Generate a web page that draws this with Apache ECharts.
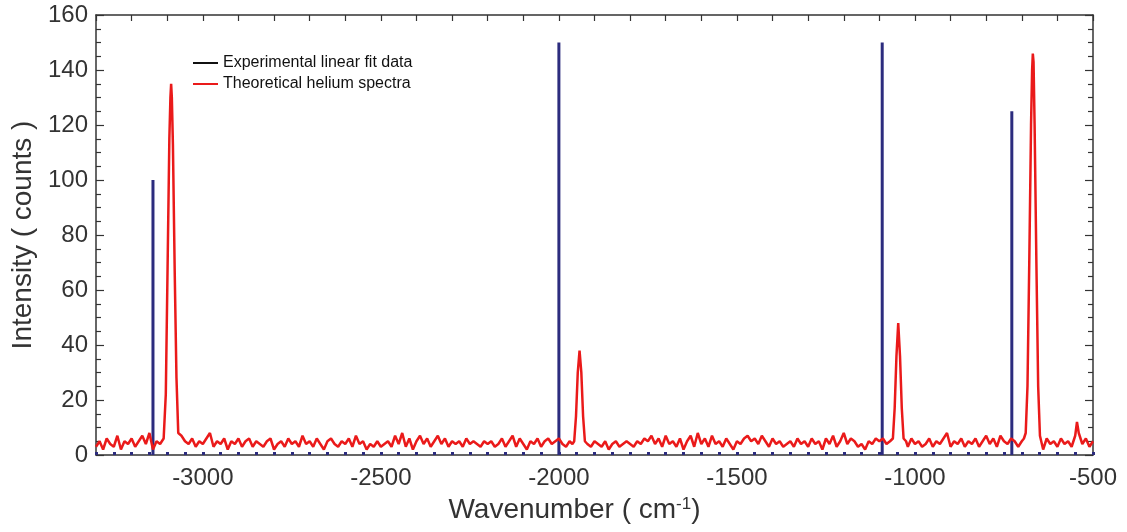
<!DOCTYPE html>
<html><head><meta charset="utf-8">
<script src="https://cdn.jsdelivr.net/npm/echarts@6/dist/echarts.min.js"></script>
<style>html,body{margin:0;padding:0;background:#fff}#c{width:1127px;height:532px}</style>
</head><body><div id="c"></div>
<script>
// ---- data ----
const expName = 'Experimental linear fit data';
const theoryName = 'Theoretical helium spectra';

const expWavenumber = [-3140, -2000, -1092, -728];
const expIntensity  = [100, 150, 150, 125];

const theoryWavenumber = [
  -3300,-3290,-3280,-3270,-3260,-3250,-3240,-3230,-3220,-3210,
  -3200,-3190,-3180,-3170,-3160,-3150,-3140,-3130,-3120,-3110,
  -3104,-3099,-3094,-3091,-3089,-3087,-3084,-3079,-3074,-3069,
  -3060,-3050,-3040,-3030,-3020,-3010,-3000,-2990,-2980,-2970,
  -2960,-2950,-2940,-2930,-2920,-2910,-2900,-2890,-2880,-2870,
  -2860,-2850,-2840,-2830,-2820,-2810,-2800,-2790,-2780,-2770,
  -2760,-2750,-2740,-2730,-2720,-2710,-2700,-2690,-2680,-2670,
  -2660,-2650,-2640,-2630,-2620,-2610,-2600,-2590,-2580,-2570,
  -2560,-2550,-2540,-2530,-2520,-2510,-2500,-2490,-2480,-2470,
  -2460,-2450,-2440,-2430,-2420,-2410,-2400,-2390,-2380,-2370,
  -2360,-2350,-2340,-2330,-2320,-2310,-2300,-2290,-2280,-2270,
  -2260,-2250,-2240,-2230,-2220,-2210,-2200,-2190,-2180,-2170,
  -2160,-2150,-2140,-2130,-2120,-2110,-2100,-2090,-2080,-2070,
  -2060,-2050,-2040,-2030,-2020,-2010,-2000,-1990,-1980,-1970,
  -1962,-1957,-1952,-1947,-1942,-1937,-1932,-1927,-1920,-1910,
  -1900,-1890,-1880,-1870,-1860,-1850,-1840,-1830,-1820,-1810,
  -1800,-1790,-1780,-1770,-1760,-1750,-1740,-1730,-1720,-1710,
  -1700,-1690,-1680,-1670,-1660,-1650,-1640,-1630,-1620,-1610,
  -1600,-1590,-1580,-1570,-1560,-1550,-1540,-1530,-1520,-1510,
  -1500,-1490,-1480,-1470,-1460,-1450,-1440,-1430,-1420,-1410,
  -1400,-1390,-1380,-1370,-1360,-1350,-1340,-1330,-1320,-1310,
  -1300,-1290,-1280,-1270,-1260,-1250,-1240,-1230,-1220,-1210,
  -1200,-1190,-1180,-1170,-1160,-1150,-1140,-1130,-1120,-1110,
  -1100,-1090,-1080,-1070,-1062,-1057,-1052,-1047,-1042,-1037,
  -1032,-1025,-1020,-1010,-1000,-990,-980,-970,-960,-950,
  -940,-930,-920,-910,-900,-890,-880,-870,-860,-850,
  -840,-830,-820,-810,-800,-790,-780,-770,-760,-750,
  -740,-730,-720,-710,-700,-694,-689,-684,-679,-674,
  -671,-669,-667,-664,-659,-654,-649,-640,-630,-620,
  -610,-600,-590,-580,-570,-560,-550,-545,-540,-530,
  -520,-510,-500
];
const theoryIntensity = [
  3,5,2,6,4,3,7,2,5,4,
  6,3,5,7,4,8,2,5,4,6,
  22,68,115,130,135,130,113,67,28,8,
  7,5,4,6,3,5,4,6,8,3,
  5,4,6,2,5,4,6,3,5,6,
  3,5,4,3,5,6,2,4,5,3,
  6,4,5,3,7,4,5,3,6,4,
  2,5,6,4,3,5,4,6,3,7,
  4,5,2,4,3,5,3,4,5,3,
  7,4,8,3,6,2,5,7,4,6,
  3,5,7,4,6,3,5,4,5,3,
  6,4,5,4,3,5,4,5,3,4,
  6,3,5,7,3,6,4,2,5,4,
  6,3,5,6,4,5,6,4,3,5,
  4,5,14,30,38,30,14,5,4,3,
  5,4,3,5,2,4,5,3,4,5,
  4,3,5,4,6,5,7,4,6,3,
  7,4,5,3,6,2,5,7,3,8,
  4,6,3,7,4,5,3,6,4,2,
  5,4,6,7,5,6,4,7,5,3,
  6,4,5,3,4,5,3,6,4,5,
  3,6,4,5,2,6,4,7,3,5,
  8,4,6,5,3,4,2,5,4,6,
  5,6,4,5,6,17,36,48,36,17,
  6,5,3,6,4,5,3,4,6,3,
  5,4,6,8,3,5,4,6,3,5,
  4,6,3,5,7,4,6,3,7,5,
  4,6,5,3,5,6,8,25,70,120,
  140,146,143,120,70,25,7,2,6,4,
  5,3,6,4,5,3,7,12,8,4,
  6,3,5
];

const xTickLabels = [-3000, -2500, -2000, -1500, -1000, -500];

// ---- chart ----
const FONT = '"Liberation Sans", Arial, Helvetica, sans-serif';
const AX = '#333';
const NAVY = '#2c2c7e';
const RED = '#ea1a1a';

const chart = echarts.init(document.getElementById('c'), null, {renderer: 'canvas'});

const baseX = {
  type: 'value', min: -3300, max: -500, interval: 100,
  axisLine: {show: true, onZero: false, lineStyle: {color: AX, width: 1.5}},
  splitLine: {show: false}, minorSplitLine: {show: false}
};
const baseY = {
  type: 'value', min: 0, max: 160, interval: 20,
  axisLine: {show: true, onZero: false, lineStyle: {color: AX, width: 1.5}},
  axisTick: {show: true, inside: true, length: 8, lineStyle: {color: AX, width: 1.2}},
  minorTick: {show: true, splitNumber: 4, length: 5, lineStyle: {color: AX, width: 1.2}},
  splitLine: {show: false}, minorSplitLine: {show: false}
};

chart.setOption({
  animation: false,
  backgroundColor: '#fff',
  textStyle: {fontFamily: FONT},
  grid: {left: 96, right: 34, top: 15, bottom: 77, containLabel: false},
  legend: {
    orient: 'vertical', left: 188, top: 50,
    itemWidth: 25, itemHeight: 2, itemGap: 5, icon: 'rect',
    textStyle: {fontSize: 16, color: '#111', fontFamily: FONT},
    data: [
      {name: expName, itemStyle: {color: '#111'}},
      {name: theoryName, itemStyle: {color: RED}}
    ]
  },
  xAxis: [
    Object.assign({}, baseX, {
      position: 'bottom',
      axisTick: {show: true, inside: true, length: 3, lineStyle: {color: NAVY, width: 3}},
      minorTick: {show: true, splitNumber: 2, length: 3, lineStyle: {color: NAVY, width: 3}},
      axisLabel: {
        fontSize: 24, color: AX, margin: 11, fontFamily: FONT,
        formatter: v => xTickLabels.indexOf(v) >= 0 ? String(v) : ''
      },
      name: '{n|Wavenumber ( cm}{s|-1}{n|)}',
      nameLocation: 'middle', nameGap: 41,
      nameTextStyle: {
        padding: [0, 40, 0, 0],
        rich: {
          n: {fontSize: 28, color: AX, fontFamily: FONT},
          s: {fontSize: 17, color: AX, fontFamily: FONT, verticalAlign: 'top'}
        }
      }
    }),
    Object.assign({}, baseX, {
      position: 'top',
      axisTick: {show: true, inside: true, length: 6, lineStyle: {color: AX, width: 1.2}},
      axisLabel: {show: false}
    })
  ],
  yAxis: [
    Object.assign({}, baseY, {
      position: 'left',
      axisLabel: {fontSize: 24, color: AX, margin: 8, fontFamily: FONT},
      name: 'Intensity ( counts )',
      nameLocation: 'middle', nameGap: 56,
      nameTextStyle: {fontSize: 28, color: AX, fontFamily: FONT}
    }),
    Object.assign({}, baseY, {
      position: 'right',
      axisLabel: {show: false}
    })
  ],
  series: [
    {
      name: expName, type: 'bar', xAxisIndex: 0, yAxisIndex: 0,
      barWidth: 3,
      data: expWavenumber.map((x, i) => [x, expIntensity[i]]),
      itemStyle: {color: NAVY},
      z: 2
    },
    {
      name: theoryName, type: 'line', xAxisIndex: 0, yAxisIndex: 0,
      showSymbol: false, symbol: 'none',
      data: theoryWavenumber.map((x, i) => [x, theoryIntensity[i]]),
      lineStyle: {color: RED, width: 2.5},
      itemStyle: {color: RED},
      z: 3
    }
  ]
});
</script></body></html>
